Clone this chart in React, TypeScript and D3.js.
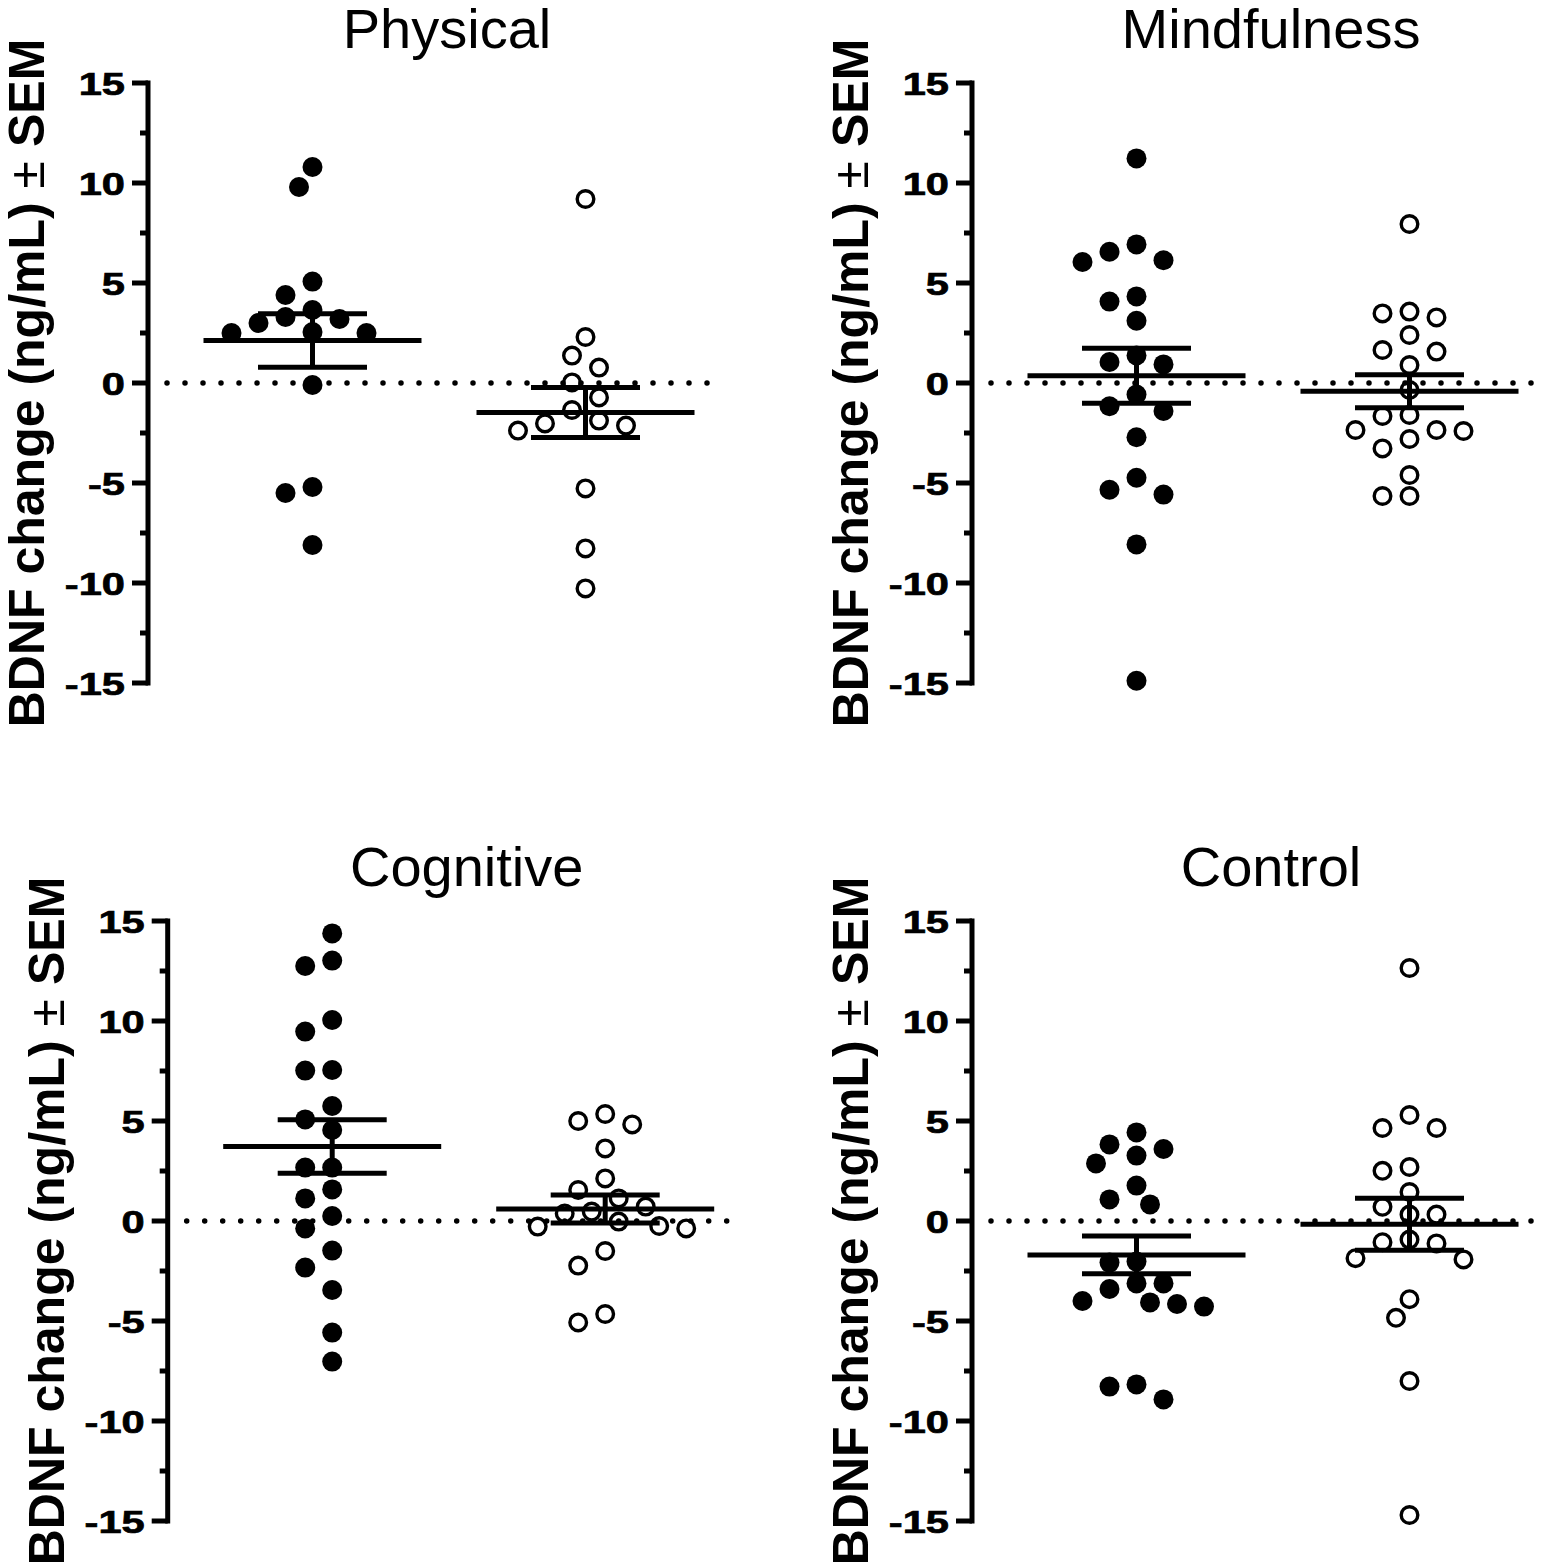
import React from 'react';
import * as d3 from 'd3';

// ---------- data ----------
const panelTitles = ['Physical', 'Mindfulness', 'Cognitive', 'Control'];

const physicalFilled = [10.8, 9.8, 5.07, 4.4, 3.65, 3.3, 3.2, 3.0, 2.55, 2.5, 2.5, -0.1, -5.2, -5.5, -8.1];
const physicalOpen = [9.2, 2.3, 1.37, 0.77, 0.03, -0.72, -1.35, -1.88, -2.02, -2.13, -2.38, -5.27, -8.27, -10.27];

const mindfulnessFilled = [11.23, 6.93, 6.56, 6.14, 6.05, 4.33, 4.07, 3.11, 1.38, 1.05, 0.93, -0.58, -1.16, -1.4, -2.71, -4.74, -5.34, -5.58, -8.07, -14.89];
const mindfulnessOpen = [7.95, 3.57, 3.48, 3.28, 2.4, 1.65, 1.57, 0.9, -0.35, -1.6, -1.65, -2.35, -2.35, -2.4, -2.8, -3.27, -4.6, -5.65, -5.65];

const cognitiveFilled = [14.38, 13.02, 12.75, 10.05, 9.47, 7.55, 7.52, 5.75, 5.08, 4.55, 2.67, 2.67, 1.58, 1.13, 0.25, -0.37, -1.48, -2.33, -3.45, -5.58, -7.03];
const cognitiveOpen = [5.35, 5.0, 4.83, 3.63, 2.13, 1.55, 1.13, 0.72, 0.47, 0.38, -0.03, -0.25, -0.28, -0.37, -1.5, -2.23, -4.65, -5.07];

const controlFilled = [4.43, 3.83, 3.6, 3.27, 2.88, 1.77, 1.08, 0.83, -2.03, -2.08, -3.12, -3.12, -3.4, -4.0, -4.07, -4.15, -4.28, -8.17, -8.28, -8.92];
const controlOpen = [12.65, 5.3, 4.65, 4.65, 2.7, 2.51, 1.45, 0.71, 0.32, 0.32, -0.93, -1.06, -1.12, -1.86, -1.92, -3.91, -4.84, -8.0, -14.7];

const yDomain: [number, number] = [-15, 15];
const yMajorTicks = [-15, -10, -5, 0, 5, 10, 15];
const yMinorTicks = [-12.5, -7.5, -2.5, 2.5, 7.5, 12.5];
const yAxisLabel = 'BDNF change (ng/mL)';
const yAxisLabelPm = '±';
const yAxisLabelEnd = 'SEM';

const panels = [
  { title: panelTitles[0], filled: physicalFilled, open: physicalOpen },
  { title: panelTitles[1], filled: mindfulnessFilled, open: mindfulnessOpen },
  { title: panelTitles[2], filled: cognitiveFilled, open: cognitiveOpen },
  { title: panelTitles[3], filled: controlFilled, open: controlOpen },
];

// ---------- layout ----------
const W = 1554;
const H = 1565;
const FONT = "'Liberation Sans', Arial, Helvetica, sans-serif";
const panelLayout = [
  { axisX: 148, top: 83 },
  { axisX: 972, top: 83 },
  { axisX: 167.7, top: 921 },
  { axisX: 972, top: 921 },
];
const PLOT_H = 600;
const LW = 5;
const R = 10;
const STEP = 13.5;
const RX = 26;
const RY = 21;

function swarm(values: number[], y: d3.ScaleLinear<number, number>) {
  const placed: { dx: number; py: number; v: number }[] = [];
  const order = values.map((_, i) => i).sort((a, b) => values[b] - values[a]);
  for (const i of order) {
    const py = y(values[i]);
    for (let k = 0; k < 60; k++) {
      const dx = k === 0 ? 0 : (k % 2 === 1 ? -1 : 1) * Math.ceil(k / 2) * STEP;
      const ok = placed.every((p) => {
        const ex = (p.dx - dx) / RX;
        const ey = (p.py - py) / RY;
        return ex * ex + ey * ey >= 0.999;
      });
      if (ok) {
        placed.push({ dx, py, v: values[i] });
        break;
      }
    }
  }
  return placed;
}

function Panel({ title, filled, open, axisX, top }: any) {
  const y = d3.scaleLinear().domain(yDomain).range([top + PLOT_H, top]);
  const x = d3.scalePoint<string>().domain(['filled', 'open']).range([axisX + 164.5, axisX + 437.5]);
  const groups = [
    { key: 'filled', values: filled as number[], solid: true },
    { key: 'open', values: open as number[], solid: false },
  ];
  const dotStart = axisX + 19;
  const dotEnd = dotStart + 31 * 18;
  return (
    <g>
      <text x={axisX + 299} y={top - 35} textAnchor="middle" fontSize={56} fontFamily={FONT} fill="#000">
        {title}
      </text>
      <text
        transform={`translate(${axisX - 104},${y(0)}) rotate(-90)`}
        textAnchor="middle"
        fontSize={50}
        fontWeight="bold"
        fontFamily={FONT}
        fill="#000"
      >
        {yAxisLabel} <tspan fontWeight="normal">{yAxisLabelPm}</tspan> {yAxisLabelEnd}
      </text>
      {/* axis */}
      <line x1={axisX} x2={axisX} y1={y(15) - LW / 2} y2={y(-15) + LW / 2} stroke="#000" strokeWidth={LW} />
      {yMajorTicks.map((t) => (
        <g key={'M' + t}>
          <line x1={axisX - 16} x2={axisX} y1={y(t)} y2={y(t)} stroke="#000" strokeWidth={LW} />
          <text
            transform={`translate(${axisX - 23},${y(t)}) scale(1.3,1)`}
            dy="0.38em"
            textAnchor="end"
            fontSize={32}
            fontWeight="bold"
            fontFamily={FONT}
            fill="#000"
            stroke="#000"
            strokeWidth={0.7}
          >
            {t}
          </text>
        </g>
      ))}
      {yMinorTicks.map((t) => (
        <line key={'m' + t} x1={axisX - 8} x2={axisX} y1={y(t)} y2={y(t)} stroke="#000" strokeWidth={LW} />
      ))}
      {/* zero reference */}
      <line
        x1={dotStart}
        x2={dotEnd}
        y1={y(0)}
        y2={y(0)}
        stroke="#000"
        strokeWidth={5.5}
        strokeDasharray="0 18"
        strokeLinecap="round"
      />
      {groups.map((g) => {
        const cx = x(g.key) as number;
        const pts = swarm(g.values, y);
        const mean = d3.mean(g.values) as number;
        const sem = (d3.deviation(g.values) as number) / Math.sqrt(g.values.length);
        return (
          <g key={g.key}>
            {pts.map((p, i) =>
              g.solid ? (
                <circle key={i} cx={cx + p.dx} cy={p.py} r={R} fill="#000" />
              ) : (
                <circle key={i} cx={cx + p.dx} cy={p.py} r={R - 1.7} fill="none" stroke="#000" strokeWidth={3.4} />
              )
            )}
            <line x1={cx - 109} x2={cx + 109} y1={y(mean)} y2={y(mean)} stroke="#000" strokeWidth={LW} />
            <line x1={cx - 54.5} x2={cx + 54.5} y1={y(mean + sem)} y2={y(mean + sem)} stroke="#000" strokeWidth={LW} />
            <line x1={cx - 54.5} x2={cx + 54.5} y1={y(mean - sem)} y2={y(mean - sem)} stroke="#000" strokeWidth={LW} />
            <line x1={cx} x2={cx} y1={y(mean + sem)} y2={y(mean - sem)} stroke="#000" strokeWidth={LW} />
          </g>
        );
      })}
    </g>
  );
}

export default function App() {
  return (
    <svg
      width={W}
      height={H}
      viewBox={`0 0 ${W} ${H}`}
      style={{ position: 'absolute', left: 0, top: 0, display: 'block', background: '#fff' }}
    >
      <rect x={0} y={0} width={W} height={H} fill="#fff" />
      {panels.map((p, i) => (
        <Panel key={p.title} {...p} {...panelLayout[i]} />
      ))}
    </svg>
  );
}
